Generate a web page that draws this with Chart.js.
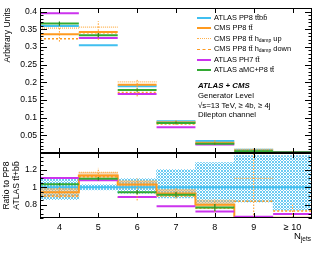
<!DOCTYPE html>
<html>
<head>
<meta charset="utf-8">
<script src="https://cdn.jsdelivr.net/npm/chart.js@4.4.1/dist/chart.umd.min.js"></script>
<style>
body { margin: 0; background: #fff; font-family: 'Liberation Sans', Arial, sans-serif; }
#wrap { position: relative; width: 332px; height: 257px; overflow: hidden; }
canvas { position: absolute; left: 0; }
#top { top: 0; }
#bot { top: 150px; }
.leg { position: absolute; left: 197px; top: 13px; font-size: 7.4px; color: #000; }
.leg div { height: 10.4px; line-height: 10.4px; white-space: nowrap; }
.leg i { display: inline-block; width: 14px; height: 0; vertical-align: middle; margin-right: 3px; border-top-width: 2px; border-top-style: solid; }
.leg sub { font-size: 5px; vertical-align: -1px; }
.info { position: absolute; left: 198px; top: 81px; font-size: 7.8px; line-height: 9.8px; color: #000; white-space: nowrap; }
.info b { font-style: italic; }
.xt { position: absolute; right: 21px; top: 230px; font-size: 9.5px; color: #000; }
.xt sub { font-size: 6.5px; vertical-align: -2px; }
</style>
</head>
<body>
<div id="wrap">
  <canvas id="top" width="332" height="156"></canvas>
  <canvas id="bot" width="332" height="107"></canvas>
  <div class="leg">
    <div><i style="border-color:#40bff0"></i>ATLAS PP8 tt̄bb̄</div>
    <div><i style="border-color:#ff9a1f"></i>CMS PP8 tt̄</div>
    <div><i style="border-color:#ffb04a;border-top-style:dotted;border-top-width:1px"></i>CMS PP8 tt̄ h<sub>damp</sub> up</div>
    <div><i style="border-color:#ff9a1f;border-top-style:dashed;border-top-width:1.5px"></i>CMS PP8 tt̄ h<sub>damp</sub> down</div>
    <div><i style="border-color:#cc33ee"></i>ATLAS PH7 tt̄</div>
    <div><i style="border-color:#33aa33"></i>ATLAS aMC+P8 tt̄</div>
  </div>
  <div class="info">
    <b>ATLAS + CMS</b><br>
    Generator Level<br>
    √s=13 TeV, ≥ 4b, ≥ 4j<br>
    Dilepton channel
  </div>
  <div class="xt">N<sub>jets</sub></div>
</div>
<script>
// bins and tick labels
const bins = [4, 5, 6, 7, 8, 9, 10];
const binLabels = ['4', '5', '6', '7', '8', '9', '≥ 10'];
const topTicks = [0.05, 0.1, 0.15, 0.2, 0.25, 0.3, 0.35, 0.4];
const ratioTicks = [0.8, 1, 1.2];

// top panel, normalised distributions
const pp8bb    = [0.359, 0.305, 0.189, 0.090, 0.034, 0.009, 0.003];
const cmsPP8   = [0.336, 0.342, 0.193, 0.086, 0.028, 0.002, 0.001];
const cmsUp    = [0.353, 0.356, 0.201, 0.088, 0.031, 0.010, 0.001];
const cmsDown  = [0.323, 0.340, 0.171, 0.082, 0.026, 0.007, 0.002];
const ph7      = [0.395, 0.325, 0.167, 0.073, 0.024, 0.001, 0.002];
const amcP8    = [0.366, 0.333, 0.178, 0.085, 0.026, 0.005, 0.002];
const amcErr   = [0.006, 0.006, 0.005, 0.004, 0.003, 0.002, 0.001];
const cmsErrLo = [0.315, 0.320, 0.160, 0.080, 0.024, 0.000, 0.000];
const cmsErrHi = [0.360, 0.373, 0.210, 0.094, 0.036, 0.012, 0.004];

// ratio panel, relative to ATLAS PP8 ttbb
const rRef     = [1, 1, 1, 1, 1, 1, 1];
const rRefLo   = [0.86, 0.97, 0.93, 0.88, 0.82, 0.83, 0.74];
const rRefHi   = [1.09, 1.03, 1.10, 1.20, 1.28, 1.36, 1.36];
const rCms     = [0.943, 1.135, 1.03, 0.93, 0.80, 0.652, 0.652];
const rCmsLo   = [0.89, 1.10, 0.99, 0.90, 0.76, 0.65, 0.65];
const rCmsHi   = [0.99, 1.17, 1.07, 0.97, 0.84, 0.65, 0.65];
const rUp      = [0.98, 1.17, 1.07, 0.97, 0.85, 1.10, 0.50];
const rDown    = [0.90, 1.12, 0.885, 0.90, 0.76, 0.84, 0.73];
const rPh7     = [1.106, 1.08, 0.89, 0.785, 0.725, 0.665, 0.695];
const rAmc     = [1.034, 1.098, 0.943, 0.915, 0.77, 0.50, 0.50];
const rAmcErr  = [0.015, 0.02, 0.025, 0.03, 0.04, 0.05, 0.05];
const rCmsErrLo = [0.88, 1.08, 0.85, 0.87, 0.72, 0.65, 0.65];
const rCmsErrHi = [1.00, 1.22, 1.10, 0.99, 0.86, 1.39, 0.80];

const CYAN = '#40bff0', ORANGE = '#ff9a1f', PURPLE = '#cc33ee', GREEN = '#33aa33';

Chart.defaults.font.family = "'Liberation Sans', Arial, sans-serif";
Chart.defaults.color = '#000';

function segs(vals) {
    const out = [];
    bins.forEach((b, i) => { out.push({x: b - 0.5, y: vals[i]}, {x: b + 0.5, y: vals[i]}, {x: b + 0.5, y: null}); });
    return out;
}
function steps(vals) {
    const out = [];
    bins.forEach((b, i) => { out.push({x: b - 0.5, y: vals[i]}, {x: b + 0.5, y: vals[i]}); });
    return out;
}
function errs(lo, hi) {
    const out = [];
    bins.forEach((b, i) => { out.push({x: b, y: lo[i]}, {x: b, y: hi[i]}, {x: b, y: null}); });
    return out;
}
function band(lo, hi) {
    return bins.map((b, i) => ({x: b, y: [lo[i], hi[i]]}));
}
function hatch() {
    const c = document.createElement('canvas');
    c.width = c.height = 3;
    const g = c.getContext('2d');
    g.fillStyle = '#6ccbf2';
    for (let y = 0; y < 3; y++) for (let x = 0; x < 3; x++) {
        if (x === y || x + y === 2) g.fillRect(x, y, 1, 1);
    }
    return g.createPattern(c, 'repeat');
}
function line(data, color, width, dash) {
    return { type: 'line', data: data, borderColor: color, borderWidth: width, borderDash: dash || [],
             pointRadius: 0, spanGaps: false, tension: 0, borderCapStyle: 'butt' };
}
function fillBand(data, color) {
    return { type: 'bar', data: data, backgroundColor: color, borderWidth: 0,
             barPercentage: 1, categoryPercentage: 1, grouped: false };
}

// frame with ROOT-like inward ticks
const frame = {
    id: 'frame',
    afterDatasetsDraw(chart, args, o) {
        const ctx = chart.ctx, a = chart.chartArea, x = chart.scales.x, y = chart.scales.y;
        const seg = (x1, y1, x2, y2) => { ctx.beginPath(); ctx.moveTo(x1, y1); ctx.lineTo(x2, y2); ctx.stroke(); };
        ctx.save();
        ctx.strokeStyle = '#000';
        ctx.lineWidth = 1;
        const n0 = Math.ceil(y.min / o.minor - 1e-6), n1 = Math.floor(y.max / o.minor + 1e-6);
        for (let n = n0; n <= n1; n++) {
            const v = n * o.minor;
            const major = Math.abs(v / o.major - Math.round(v / o.major)) < 1e-6;
            const len = major ? 7 : 3.5;
            const py = Math.round(y.getPixelForValue(v)) + 0.5;
            seg(a.left, py, a.left + len, py);
            seg(a.right, py, a.right - len, py);
        }
        bins.forEach(b => {
            const px = Math.round(x.getPixelForValue(b)) + 0.5;
            seg(px, a.top, px, a.top + 5);
            seg(px, a.bottom, px, a.bottom - 5);
        });
        ctx.strokeRect(a.left + 0.5, a.top + 0.5, a.right - a.left - 1, a.bottom - a.top - 1);
        ctx.lineWidth = 2;
        if (o.thickBottom) seg(a.left, a.bottom, a.right, a.bottom);
        if (o.thickTop) seg(a.left, a.top, a.right, a.top);
        ctx.restore();
    }
};

const fitY = axis => { axis.width = 40; axis.paddingTop = 0; axis.paddingBottom = 0; };

const xScale = (show) => ({
    type: 'linear', min: 3.5, max: 10.5, offset: false, display: show,
    grid: { display: false, drawTicks: false }, border: { display: false },
    afterBuildTicks: axis => { axis.ticks = bins.map(v => ({value: v})); },
    afterFit: axis => { if (show) axis.height = 39; axis.paddingLeft = 0; axis.paddingRight = 0; },
    ticks: { font: { size: 9 }, padding: 4, maxRotation: 0, autoSkip: false,
             callback: v => binLabels[bins.indexOf(v)] || '' }
});

new Chart(document.getElementById('top'), {
    data: {
        datasets: [
            line(errs(amcP8.map((v, i) => v - amcErr[i]), amcP8.map((v, i) => v + amcErr[i])), '#228822', 1.2),
            line(errs(cmsErrLo, cmsErrHi), ORANGE, 1, [1.5, 1.5]),
            line(segs(amcP8), GREEN, 2),
            line(segs(ph7), PURPLE, 2),
            line(segs(cmsUp), '#ffb04a', 1.2, [1, 1]),
            line(segs(cmsDown), ORANGE, 1.5, [2, 2]),
            line(segs(cmsPP8), ORANGE, 2),
            line(segs(pp8bb), CYAN, 2)
        ]
    },
    options: {
        responsive: false, animation: false, devicePixelRatio: 1, events: [],
        layout: { padding: { top: 8, right: 20, bottom: 3, left: 0 } },
        plugins: { legend: { display: false }, tooltip: { enabled: false },
                   frame: { major: 0.05, minor: 0.01, thickBottom: true } },
        scales: {
            x: xScale(false),
            y: {
                min: 0, max: 0.41,
                grid: { display: false, drawTicks: false }, border: { display: false },
                afterBuildTicks: axis => { axis.ticks = topTicks.map(v => ({value: v})); },
                afterFit: fitY,
                ticks: { font: { size: 8.6 }, padding: 3, callback: v => String(+v.toFixed(2)) },
                title: { display: true, text: 'Arbitrary Units', align: 'end', font: { size: 8.6 }, padding: { top: 2, bottom: 0 } }
            }
        }
    },
    plugins: [frame]
});

new Chart(document.getElementById('bot'), {
    data: {
        datasets: [
            line(errs(rAmc.map((v, i) => v - rAmcErr[i]), rAmc.map((v, i) => v + rAmcErr[i])), '#228822', 1.2),
            line(errs(rCmsErrLo, rCmsErrHi), ORANGE, 1, [1.5, 1.5]),
            line(segs(rAmc), GREEN, 2),
            line(segs(rPh7), PURPLE, 2),
            line(steps(rCms), ORANGE, 2),
            line(segs(rUp), '#ffb04a', 1.2, [1, 1]),
            line(segs(rDown), ORANGE, 1.5, [2, 2]),
            line(segs(rRef), CYAN, 2),
            fillBand(band(rCmsLo, rCmsHi), 'rgba(232,168,90,0.45)'),
            fillBand(band(rRefLo, rRefHi), hatch())
        ]
    },
    options: {
        responsive: false, animation: false, devicePixelRatio: 1, events: [],
        layout: { padding: { top: 3, right: 20, bottom: 0, left: 0 } },
        plugins: { legend: { display: false }, tooltip: { enabled: false },
                   frame: { major: 0.2, minor: 0.05, thickTop: true } },
        scales: {
            x: xScale(true),
            y: {
                min: 0.65, max: 1.39,
                grid: { display: false, drawTicks: false }, border: { display: false },
                afterBuildTicks: axis => { axis.ticks = ratioTicks.map(v => ({value: v})); },
                afterFit: fitY,
                ticks: { font: { size: 8.6 }, padding: 3, callback: v => String(+v.toFixed(2)) },
                title: { display: true, text: ['Ratio to PP8', 'ATLAS tt̄+bb̄'], align: 'center',
                         font: { size: 8.6 }, padding: { top: 1, bottom: 0 } }
            }
        }
    },
    plugins: [frame]
});
</script>
</body>
</html>
